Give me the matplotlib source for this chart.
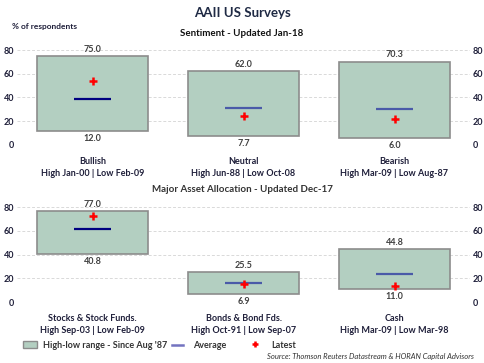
import matplotlib
matplotlib.use("Agg")
import matplotlib.pyplot as plt
from matplotlib.patches import Rectangle
from matplotlib.lines import Line2D

plt.rcParams['font.family'] = ['Lato', 'DejaVu Sans']

# Sentiment data
sent_cats = ["Bullish", "Neutral", "Bearish"]
sent_dates = ["High Jan-00 | Low Feb-09", "High Jun-88 | Low Oct-08", "High Mar-09 | Low Aug-87"]
sent_high = [75.0, 62.0, 70.3]
sent_low = [12.0, 7.7, 6.0]
sent_avg = [38.5, 31.4, 30.3]
sent_latest = [54.3, 24.4, 21.6]

# Asset allocation data
alloc_cats = ["Stocks & Stock Funds.", "Bonds & Bond Fds.", "Cash"]
alloc_dates = ["High Sep-03 | Low Feb-09", "High Oct-91 | Low Sep-07", "High Mar-09 | Low Mar-98"]
alloc_high = [77.0, 25.5, 44.8]
alloc_low = [40.8, 6.9, 11.0]
alloc_avg = [61.4, 16.3, 23.9]
alloc_latest = [72.6, 15.3, 13.5]

yticks = [0, 20, 40, 60, 80]

W, H = 484, 363
fig = plt.figure(figsize=(W / 100, H / 100), dpi=100)
fig.patch.set_facecolor("white")

BOX = "#b3cfc1"
EDGE = "#8c8c8c"
TXT = "#1f1f3a"
AVGC = ["#000080", "#4a5aa8", "#4a5aa8"]


def fx(px):
    return px / W


def fy(py):
    return 1 - py / H


def panel(rect, cats, dates, high, low, avg, latest, avg_colors):
    ax = fig.add_axes(rect)
    x = list(range(len(cats)))
    heights = [h - l for h, l in zip(high, low)]
    ax.bar(x, heights, bottom=low, width=0.74, color=BOX, edgecolor=EDGE,
           linewidth=1.2, zorder=2)
    for i in x:
        ax.hlines(avg[i], i - 0.125, i + 0.125, color=avg_colors[i], lw=1.6, zorder=3)
        ax.annotate(f"{high[i]:.1f}", (i, high[i]), xytext=(0, 1.5), textcoords="offset points",
                    ha="center", va="bottom", fontsize=6.5, fontweight="bold", color="#404040")
        ax.annotate(f"{low[i]:.1f}", (i, low[i]), xytext=(0, -2.5), textcoords="offset points",
                    ha="center", va="top", fontsize=6.5, fontweight="bold", color="#404040")
        ax.text(i, -0.235, f"{cats[i]}\n{dates[i]}", transform=ax.get_xaxis_transform(),
                ha="center", va="center", fontsize=6.5, fontweight="bold", color=TXT,
                linespacing=1.45)
    ax.plot(x, latest, linestyle="none", marker="+", color="red", markersize=5.5, mew=1.8, zorder=4)
    ax.set_xlim(-0.5, 2.5)
    ax.set_ylim(0, 80)
    ax.set_yticks(yticks)
    ax.set_xticks([])
    ax.grid(axis="y", color="#d9d9d9", linestyle=(0, (3, 2)), lw=0.7, zorder=0)
    ax.set_axisbelow(True)
    for s in ax.spines.values():
        s.set_visible(False)
    ax.tick_params(axis="y", length=0, labelsize=6.5, labelcolor=TXT, pad=2,
                   labelright=True, right=False)
    for lbl in ax.get_yticklabels():
        lbl.set_fontweight("bold")
    ax.patch.set_alpha(0)
    return ax


left = fx(17)
width = fx(470) - fx(17)
panel([left, fy(145), width, (145 - 50) / H], sent_cats, sent_dates,
      sent_high, sent_low, sent_avg, sent_latest, AVGC)
panel([left, fy(302), width, (302 - 207.3) / H], alloc_cats, alloc_dates,
      alloc_high, alloc_low, alloc_avg, alloc_latest, AVGC)

fig.text(0.5, fy(13), "AAII US Surveys", ha="center", va="center", fontsize=9.5,
         fontweight="bold", color="#1f2a44")
fig.text(fx(12), fy(26), "% of respondents", ha="left", va="center", fontsize=6,
         fontweight="bold", color=TXT)
fig.text(0.5, fy(33), "Sentiment - Updated Jan-18", ha="center", va="center",
         fontsize=7, fontweight="bold", color="#111111")
fig.text(0.5, fy(189), "Major Asset Allocation - Updated Dec-17", ha="center", va="center",
         fontsize=7, fontweight="bold", color="#333333")

# Legend
fig.patches.append(Rectangle((fx(23), fy(348)), fx(37) - fx(23), (348 - 341) / H,
                             transform=fig.transFigure, facecolor=BOX, edgecolor=EDGE, lw=1))
fig.text(fx(43), fy(345), "High-low range - Since Aug '87", ha="left", va="center",
         fontsize=6.5, fontweight="bold", color="#333333")
fig.lines.append(Line2D([fx(172), fx(183)], [fy(345), fy(345)], transform=fig.transFigure,
                        color="#7373c0", lw=1.8))
fig.text(fx(193), fy(345), "Average", ha="left", va="center", fontsize=6.5,
         fontweight="bold", color="#333333")
fig.lines.append(Line2D([fx(255)], [fy(344)], transform=fig.transFigure, marker="+",
                        color="red", markersize=5, mew=1.8, linestyle="none"))
fig.text(fx(271), fy(345), "Latest", ha="left", va="center", fontsize=6.5,
         fontweight="bold", color="#333333")
fig.text(fx(474), fy(357), "Source: Thomson Reuters Datastream & HORAN Capital Advisors",
         ha="right", va="center", fontsize=5.5, style="italic", color="#333333")

fig.savefig("out.png", dpi=100, facecolor="white")
